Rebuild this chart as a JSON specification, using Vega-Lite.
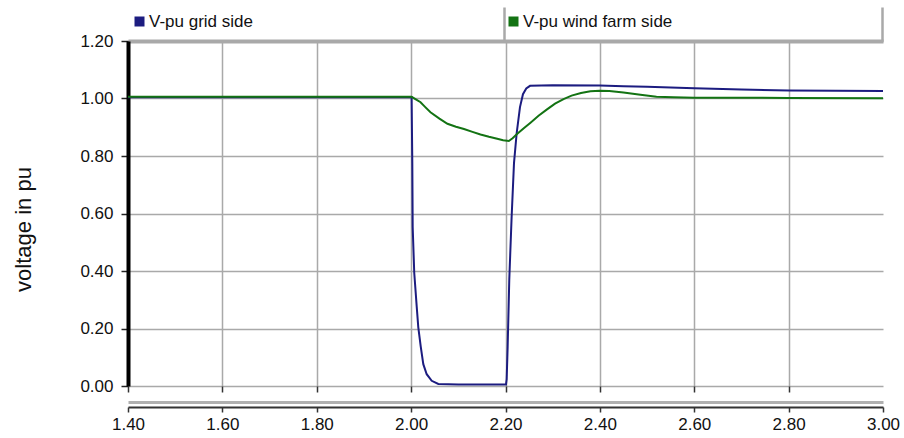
{
  "$schema": "https://vega.github.io/schema/vega-lite/v6.json",
  "width": 755,
  "height": 345,
  "autosize": {"type": "none"},
  "padding": {"left": 128, "top": 41, "right": 21, "bottom": 52},
  "background": "white",
  "config": {
    "view": {"stroke": null},
    "font": "Liberation Sans",
    "axis": {"labelFont": "Liberation Sans", "titleFont": "Liberation Sans", "labelColor": "#111", "titleColor": "#111"}
  },
  "data": {
    "values": [
      {"t": 1.40, "v": 1.004, "s": "V-pu grid side"},
      {"t": 1.60, "v": 1.004, "s": "V-pu grid side"},
      {"t": 1.80, "v": 1.004, "s": "V-pu grid side"},
      {"t": 2.001, "v": 1.004, "s": "V-pu grid side"},
      {"t": 2.0025, "v": 0.775, "s": "V-pu grid side"},
      {"t": 2.0033, "v": 0.553, "s": "V-pu grid side"},
      {"t": 2.0066, "v": 0.394, "s": "V-pu grid side"},
      {"t": 2.0118, "v": 0.277, "s": "V-pu grid side"},
      {"t": 2.0152, "v": 0.204, "s": "V-pu grid side"},
      {"t": 2.0203, "v": 0.138, "s": "V-pu grid side"},
      {"t": 2.0258, "v": 0.076, "s": "V-pu grid side"},
      {"t": 2.033, "v": 0.041, "s": "V-pu grid side"},
      {"t": 2.0436, "v": 0.018, "s": "V-pu grid side"},
      {"t": 2.0576, "v": 0.007, "s": "V-pu grid side"},
      {"t": 2.10, "v": 0.005, "s": "V-pu grid side"},
      {"t": 2.201, "v": 0.005, "s": "V-pu grid side"},
      {"t": 2.2025, "v": 0.024, "s": "V-pu grid side"},
      {"t": 2.2046, "v": 0.138, "s": "V-pu grid side"},
      {"t": 2.208, "v": 0.37, "s": "V-pu grid side"},
      {"t": 2.213, "v": 0.589, "s": "V-pu grid side"},
      {"t": 2.218, "v": 0.775, "s": "V-pu grid side"},
      {"t": 2.2237, "v": 0.88, "s": "V-pu grid side"},
      {"t": 2.2307, "v": 0.97, "s": "V-pu grid side"},
      {"t": 2.237, "v": 1.015, "s": "V-pu grid side"},
      {"t": 2.244, "v": 1.035, "s": "V-pu grid side"},
      {"t": 2.252, "v": 1.044, "s": "V-pu grid side"},
      {"t": 2.30, "v": 1.046, "s": "V-pu grid side"},
      {"t": 2.40, "v": 1.045, "s": "V-pu grid side"},
      {"t": 2.45, "v": 1.043, "s": "V-pu grid side"},
      {"t": 2.50, "v": 1.041, "s": "V-pu grid side"},
      {"t": 2.60, "v": 1.036, "s": "V-pu grid side"},
      {"t": 2.70, "v": 1.031, "s": "V-pu grid side"},
      {"t": 2.80, "v": 1.028, "s": "V-pu grid side"},
      {"t": 2.90, "v": 1.027, "s": "V-pu grid side"},
      {"t": 3.00, "v": 1.026, "s": "V-pu grid side"},
      {"t": 1.40, "v": 1.006, "s": "V-pu wind farm side"},
      {"t": 1.60, "v": 1.006, "s": "V-pu wind farm side"},
      {"t": 1.80, "v": 1.006, "s": "V-pu wind farm side"},
      {"t": 2.001, "v": 1.006, "s": "V-pu wind farm side"},
      {"t": 2.01, "v": 0.997, "s": "V-pu wind farm side"},
      {"t": 2.02, "v": 0.987, "s": "V-pu wind farm side"},
      {"t": 2.03, "v": 0.97, "s": "V-pu wind farm side"},
      {"t": 2.041, "v": 0.952, "s": "V-pu wind farm side"},
      {"t": 2.06, "v": 0.93, "s": "V-pu wind farm side"},
      {"t": 2.077, "v": 0.912, "s": "V-pu wind farm side"},
      {"t": 2.095, "v": 0.902, "s": "V-pu wind farm side"},
      {"t": 2.112, "v": 0.894, "s": "V-pu wind farm side"},
      {"t": 2.13, "v": 0.884, "s": "V-pu wind farm side"},
      {"t": 2.147, "v": 0.875, "s": "V-pu wind farm side"},
      {"t": 2.165, "v": 0.867, "s": "V-pu wind farm side"},
      {"t": 2.1825, "v": 0.86, "s": "V-pu wind farm side"},
      {"t": 2.195, "v": 0.855, "s": "V-pu wind farm side"},
      {"t": 2.207, "v": 0.852, "s": "V-pu wind farm side"},
      {"t": 2.215, "v": 0.862, "s": "V-pu wind farm side"},
      {"t": 2.225, "v": 0.877, "s": "V-pu wind farm side"},
      {"t": 2.24, "v": 0.898, "s": "V-pu wind farm side"},
      {"t": 2.253, "v": 0.916, "s": "V-pu wind farm side"},
      {"t": 2.27, "v": 0.94, "s": "V-pu wind farm side"},
      {"t": 2.288, "v": 0.962, "s": "V-pu wind farm side"},
      {"t": 2.305, "v": 0.982, "s": "V-pu wind farm side"},
      {"t": 2.323, "v": 0.998, "s": "V-pu wind farm side"},
      {"t": 2.34, "v": 1.01, "s": "V-pu wind farm side"},
      {"t": 2.36, "v": 1.019, "s": "V-pu wind farm side"},
      {"t": 2.38, "v": 1.025, "s": "V-pu wind farm side"},
      {"t": 2.40, "v": 1.027, "s": "V-pu wind farm side"},
      {"t": 2.42, "v": 1.026, "s": "V-pu wind farm side"},
      {"t": 2.45, "v": 1.021, "s": "V-pu wind farm side"},
      {"t": 2.486, "v": 1.013, "s": "V-pu wind farm side"},
      {"t": 2.52, "v": 1.006, "s": "V-pu wind farm side"},
      {"t": 2.556, "v": 1.004, "s": "V-pu wind farm side"},
      {"t": 2.60, "v": 1.003, "s": "V-pu wind farm side"},
      {"t": 2.80, "v": 1.002, "s": "V-pu wind farm side"},
      {"t": 3.00, "v": 1.001, "s": "V-pu wind farm side"}
    ]
  },
  "layer": [
    {
      "transform": [{"filter": "datum.s === 'V-pu grid side'"}],
      "mark": {"type": "line", "strokeWidth": 2},
      "encoding": {
        "x": {
          "field": "t", "type": "quantitative",
          "scale": {"domain": [1.4, 3.0], "nice": false, "zero": false},
          "axis": {
            "orient": "bottom", "offset": 21, "title": null,
            "values": [1.4, 1.6, 1.8, 2.0, 2.2, 2.4, 2.6, 2.8, 3.0],
            "format": ".2f", "grid": false,
            "domainColor": "#333", "domainWidth": 2,
            "tickColor": "#333", "tickWidth": 1.5, "tickSize": 5,
            "labelFontSize": 17, "labelPadding": 4, "labelFlush": false
          }
        },
        "y": {
          "field": "v", "type": "quantitative",
          "scale": {"domain": [0, 1.2], "nice": false},
          "axis": {
            "values": [0, 0.2, 0.4, 0.6, 0.8, 1.0, 1.2],
            "format": ".2f", "grid": true, "gridColor": "#a9a9a9", "gridWidth": 1.5,
            "domainColor": "#000", "domainWidth": 4,
            "tickColor": "#222", "tickWidth": 1.5, "tickSize": 7,
            "labelFontSize": 17, "labelPadding": 8,
            "title": "voltage in pu", "titleFontSize": 22, "titleFontWeight": "normal",
            "titleX": -104.5, "titleY": 188, "titleBaseline": "middle", "titleAngle": 270
          }
        },
        "color": {
          "field": "s", "type": "nominal",
          "scale": {"domain": ["V-pu grid side", "V-pu wind farm side"], "range": ["#1c1c80", "#137313"]},
          "legend": {
            "orient": "none", "legendX": 3, "legendY": -28, "title": null,
            "direction": "horizontal", "symbolType": "square", "symbolSize": 25,
            "symbolStrokeWidth": 5, "labelFontSize": 17, "labelFont": "Liberation Sans",
            "labelColor": "#111", "labelOffset": 1, "columnPadding": 248, "padding": 0
          }
        }
      }
    },
    {
      "transform": [{"filter": "datum.s === 'V-pu wind farm side'"}],
      "mark": {"type": "line", "strokeWidth": 2},
      "encoding": {
        "x": {
          "field": "t", "type": "quantitative",
          "axis": {
            "orient": "bottom", "offset": 0, "title": null, "labels": false, "domain": false,
            "values": [1.4, 1.6, 1.8, 2.0, 2.2, 2.4, 2.6, 2.8],
            "grid": true, "gridColor": "#a9a9a9", "gridWidth": 1.5,
            "tickColor": "#333", "tickWidth": 1.5, "tickSize": 6
          }
        },
        "y": {"field": "v", "type": "quantitative"},
        "color": {"field": "s", "type": "nominal"}
      }
    },
    {
      "mark": {"type": "line", "strokeOpacity": 0},
      "encoding": {
        "x": {
          "field": "t", "type": "quantitative",
          "axis": {
            "orient": "top", "offset": 0, "title": null, "labels": false,
            "values": [2.197, 2.997], "grid": false,
            "domainColor": "#a9a9a9", "domainWidth": 4,
            "tickColor": "#a9a9a9", "tickWidth": 2.5, "tickSize": 34
          }
        },
        "y": {"field": "v", "type": "quantitative"},
        "detail": {"field": "s", "type": "nominal"}
      }
    },
    {
      "mark": {"type": "line", "strokeOpacity": 0},
      "encoding": {
        "x": {
          "field": "t", "type": "quantitative",
          "axis": {
            "orient": "bottom", "offset": 16, "title": null, "labels": false, "ticks": false,
            "grid": false, "domainColor": "#b0b0b0", "domainWidth": 3
          }
        },
        "y": {"field": "v", "type": "quantitative"},
        "detail": {"field": "s", "type": "nominal"}
      }
    }
  ],
  "resolve": {"axis": {"x": "independent"}}
}
